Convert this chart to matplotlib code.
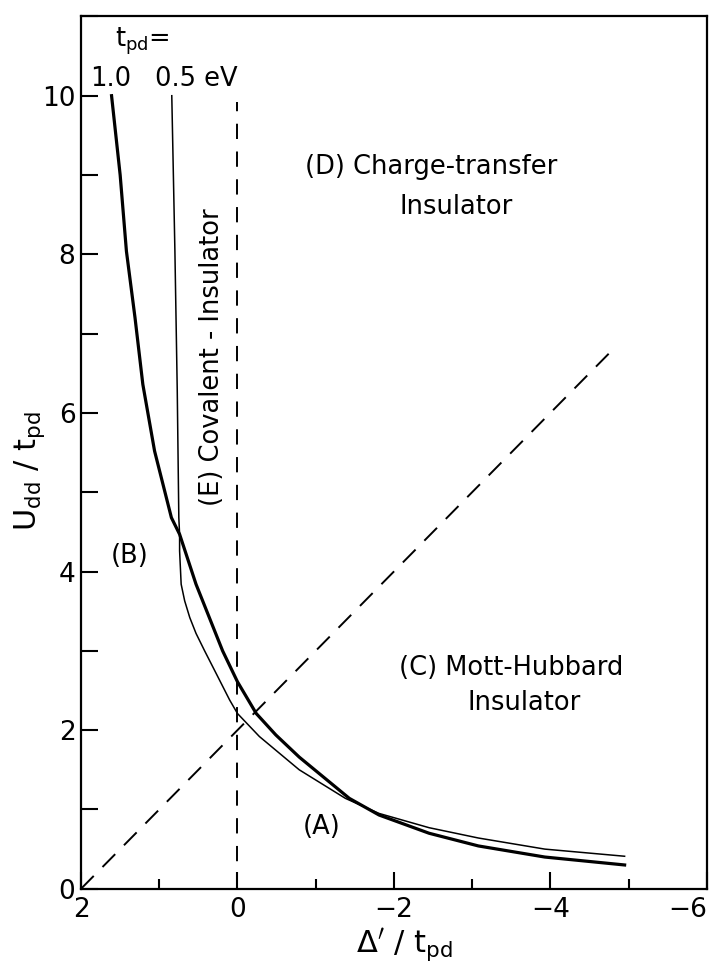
import matplotlib
matplotlib.use('Agg')
import matplotlib.pyplot as plt
from matplotlib.ticker import MultipleLocator

plt.rcParams['font.family'] = ['DejaVu Sans']
plt.rcParams['mathtext.fontset'] = 'dejavusans'
plt.rcParams['lines.scale_dashes'] = False

# t_pd = 1.0 eV boundary (thick)
thick_x = [1.61, 1.50, 1.42, 1.31, 1.21, 1.06, 0.845, 0.74, 0.53, 0.19, 0.0,
           -0.24, -0.49, -0.79, -1.43, -1.81, -2.45, -3.08, -3.93, -4.95]
thick_y = [10.0, 9.0, 8.04, 7.2, 6.36, 5.52, 4.68, 4.47, 3.84, 3.0, 2.61,
           2.21, 1.94, 1.66, 1.14, 0.93, 0.70, 0.54, 0.40, 0.30]

# t_pd = 0.5 eV boundary (thin)
thin_x = [0.84, 0.80, 0.77, 0.75, 0.74, 0.74, 0.72, 0.675, 0.61, 0.53, 0.42,
          0.27, 0.10, 0.0, -0.28, -0.79, -1.38, -1.81, -2.45, -3.08, -3.93, -4.95]
thin_y = [10.0, 8.04, 6.28, 4.68, 4.47, 4.26, 3.84, 3.63, 3.42, 3.22, 3.0,
          2.71, 2.38, 2.21, 1.92, 1.50, 1.14, 0.95, 0.77, 0.64, 0.50, 0.41]

# dashed boundaries
vert_x = [0, 0]
vert_y = [0, 9.92]
diag_x = [2, -4.85]
diag_y = [0, 6.85]

fig = plt.figure(figsize=(7.11, 9.65), dpi=100)
ax = fig.add_axes([0.114, 0.079, 0.880, 0.904])

ax.plot(thick_x, thick_y, color='black', lw=2.3, solid_joinstyle='round')
ax.plot(thin_x, thin_y, color='black', lw=1.1, solid_joinstyle='round')
ax.plot(vert_x, vert_y, color='black', lw=1.4, dashes=(11, 9))
ax.plot(diag_x, diag_y, color='black', lw=1.4, dashes=(13, 9))

ax.set_xlim(2, -6)
ax.set_ylim(0, 11)
ax.xaxis.set_major_locator(MultipleLocator(2))
ax.xaxis.set_minor_locator(MultipleLocator(1))
ax.yaxis.set_major_locator(MultipleLocator(2))
ax.yaxis.set_minor_locator(MultipleLocator(1))
ax.tick_params(axis='both', which='both', direction='in', labelsize=19, width=1.5)
ax.tick_params(axis='y', which='both', length=12, pad=4)
ax.tick_params(axis='x', which='major', length=12, pad=6)
ax.tick_params(axis='x', which='minor', length=7)
for s in ax.spines.values():
    s.set_linewidth(1.6)

# last x tick label sits against the right edge
fig.canvas.draw()
xlabels = ax.get_xticklabels()
for lab in xlabels:
    if lab.get_position()[0] == -6:
        lab.set_horizontalalignment('right')

fs = 18.5
ax.text(1.57, 10.68, 't$_{\\mathrm{pd}}$=', fontsize=fs, ha='left', va='center')
ax.text(1.62, 10.21, '1.0', fontsize=fs, ha='center', va='center')
ax.text(1.06, 10.21, '0.5 eV', fontsize=fs, ha='left', va='center')
ax.text(-2.48, 9.1, '(D) Charge-transfer', fontsize=fs, ha='center', va='center')
ax.text(-2.80, 8.6, 'Insulator', fontsize=fs, ha='center', va='center')
ax.text(-3.50, 2.78, '(C) Mott-Hubbard', fontsize=fs, ha='center', va='center')
ax.text(-3.66, 2.34, 'Insulator', fontsize=fs, ha='center', va='center')
ax.text(1.38, 4.2, '(B)', fontsize=fs, ha='center', va='center')
ax.text(-1.08, 0.78, '(A)', fontsize=fs, ha='center', va='center')
ax.text(0.32, 6.7, '(E) Covalent - Insulator', fontsize=fs, ha='center',
        va='center', rotation=90)

fig.text(30 / 711, 1 - 471 / 965, 'U$_{\\mathrm{dd}}$ / t$_{\\mathrm{pd}}$',
         fontsize=22, rotation=90, ha='center', va='center')
fig.text(404 / 711, 1 - 945 / 965, "$\\Delta'$ / t$_{\\mathrm{pd}}$",
         fontsize=22, ha='center', va='center')

fig.savefig('out.png', dpi=100)
